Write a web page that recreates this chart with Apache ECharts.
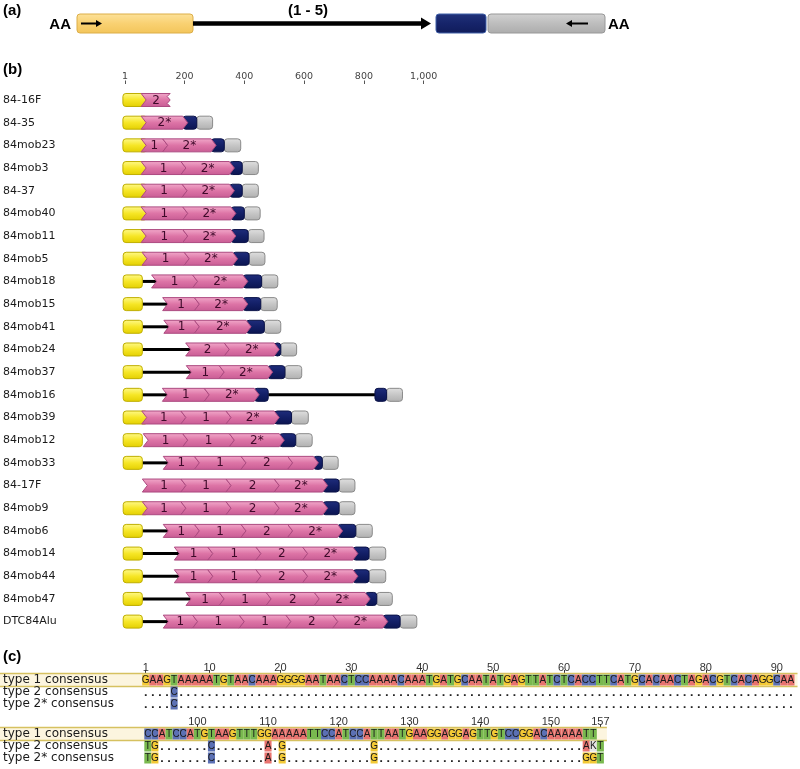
<!DOCTYPE html>
<html><head><meta charset="utf-8">
<script src="https://cdn.jsdelivr.net/npm/echarts@6/dist/echarts.min.js"></script>
<style>html,body{margin:0;padding:0;background:#fff}#c{width:800px;height:769px}</style>
</head><body><div id="c"></div>
<script>
// ---------- Panel (b) data ----------
const rowNames = ['84-16F','84-35','84mob23','84mob3','84-37','84mob40','84mob11','84mob5','84mob18','84mob15','84mob41','84mob24','84mob37','84mob16','84mob39','84mob12','84mob33','84-17F','84mob9','84mob6','84mob14','84mob44','84mob47','DTC84Alu'];
const scaleTicks = [1,200,400,600,800,1000];
// [row, start bp, end bp]
const yellowSpans = [[0,-6,55],[1,-6,55],[2,-6,55],[3,-6,55],[4,-6,55],[5,-6,55],[6,-6,55],[7,-5,58],[8,-5,59],[9,-5,59],[10,-5,59],[11,-5,59],[12,-5,59],[13,-5,59],[14,-5,57],[15,-5,59],[16,-5,59],[18,-5,59],[19,-5,59],[20,-5,59],[21,-5,59],[22,-5,59],[23,-5,59]];
const lineSpans = [[8,59,90],[9,59,127],[10,59,131],[11,59,204],[12,59,206],[13,59,126],[13,480,837],[16,59,129],[19,59,129],[20,59,166],[21,59,166],[22,59,205],[23,59,129]];
// [row, start bp, end bp (base of point)]
const pinkSpans = [[0,55,152],[1,55,194],[2,55,127],[2,127,289],[3,55,188],[3,188,350],[4,55,192],[4,192,350],[5,55,194],[5,194,355],[6,55,194],[6,194,355],[7,58,199],[7,199,361],
 [8,90,227],[8,227,395],[9,127,233],[9,233,395],[10,131,233],[10,233,406],[11,204,333],[11,333,500],[12,206,316],[12,316,478],[13,126,266],[13,266,433],
 [14,57,188],[14,188,339],[14,339,500],[15,62,194],[15,194,350],[15,350,517],[16,129,233],[16,233,389],[16,389,545],[16,545,631],
 [17,59,188],[17,188,339],[17,339,500],[17,500,662],[18,59,188],[18,188,339],[18,339,500],[18,500,662],
 [19,129,233],[19,233,389],[19,389,545],[19,545,712],[20,166,278],[20,278,439],[20,439,595],[20,595,763],[21,166,278],[21,278,439],[21,439,595],[21,595,763],
 [22,205,316],[22,316,473],[22,473,634],[22,634,804],[23,129,227],[23,227,383],[23,383,539],[23,539,696],[23,696,863]];
const pinkLabels = ['2','2*','1','2*','1','2*','1','2*','1','2*','1','2*','1','2*',
 '1','2*','1','2*','1','2*','2','2*','1','2*','1','2*',
 '1','1','2*','1','1','2*','1','1','2','',
 '1','1','2','2*','1','1','2','2*',
 '1','1','2','2*','1','1','2','2*','1','1','2','2*',
 '1','1','2','2*','1','1','1','2','2*'];
const truncatedPink = [0]; // index into pinkSpans of partial copies
const navySpans = [[1,194,241],[2,289,333],[3,350,393],[4,350,393],[5,355,400],[6,355,413],[7,361,416],[8,395,458],[9,395,455],[10,406,467],[11,500,522],[12,478,536],[13,433,480],[13,837,876],[14,500,558],[15,517,572],[16,631,661],[17,662,717],[18,662,717],[19,712,773],[20,763,817],[21,763,817],[22,804,843],[23,863,921]];
const greySpans = [[1,241,294],[2,333,388],[3,393,447],[4,393,447],[5,400,453],[6,413,466],[7,416,469],[8,458,512],[9,455,510],[10,467,522],[11,522,575],[12,536,592],[13,876,929],[14,558,614],[15,572,627],[16,661,714],[17,717,770],[18,717,770],[19,773,828],[20,817,873],[21,817,873],[22,843,895],[23,921,977]];

// ---------- Panel (a) schematic parts (relative lengths) ----------
const schemaParts = [['promoter',0,116],['repeats',116,354],['navy',359,409],['grey',411,528]];
const schemaRepeatLabel = '(1 - 5)';

// ---------- Panel (c) data ----------
const seqRowNames = ['type 1 consensus','type 2 consensus','type 2* consensus'];
const seqBlock1 = 'GAAGTAAAAATGTAACAAAGGGGAATAACTCCAAAACAAATGATGCAATATGAGTTATCTCACCTTCATGCACAACTAGACGTCACAGGCAA';
const seqBlock2 = 'CCATCCATGTAAGTTTGGAAAAATTCCATCCATTAATGAAGGAGGAGTTGTCCGGACAAAAATT';
const type2Diffs = [[5,'C'],[93,'T'],[94,'G'],[102,'C'],[110,'A'],[112,'G'],[125,'G'],[155,'A'],[156,'K'],[157,'T']];
const type2sDiffs = [[5,'C'],[93,'T'],[94,'G'],[102,'C'],[110,'A'],[112,'G'],[125,'G'],[155,'G'],[156,'G'],[157,'T']];
const rulerTicks1 = [1,10,20,30,40,50,60,70,80,90];
const rulerTicks2 = [100,110,120,130,140,150,157];
const block1Range = [1,92];
const block2Range = [93,157];

// ---------- build ----------
const chart = echarts.init(document.getElementById('c'));
const D = 5, H = 13;
const LG = (stops) => new echarts.graphic.LinearGradient(0,0,0,1,stops.map((c,i)=>({offset:i/(stops.length-1),color:c})));
const pinkStartKeys = new Set(pinkSpans.map(p => p[0]+':'+p[1]));

function boxRender(fillStops, stroke, joinYellow) {
  return function (params, api) {
    const row = api.value(0);
    const a = api.coord([api.value(1), row]);
    const b = api.coord([api.value(2), row]);
    let x1 = b[0];
    if (joinYellow && pinkStartKeys.has(row + ':' + api.value(2))) x1 += D + 1;
    return {type:'rect', z2:2, shape:{x:a[0], y:a[1]-H/2, width:x1-a[0], height:H, r:3},
      style:{fill:LG(fillStops), stroke:stroke, lineWidth:1}};
  };
}
function lineRender(params, api) {
  const row = api.value(0);
  const a = api.coord([api.value(1), row]);
  const b = api.coord([api.value(2), row]);
  return {type:'line', z2:1, shape:{x1:a[0], y1:a[1], x2:b[0]+D, y2:b[1]}, style:{stroke:'#000', lineWidth:3}};
}
function pinkRender(params, api) {
  const row = api.value(0);
  const a = api.coord([api.value(1), row]);
  const b = api.coord([api.value(2), row]);
  const x0 = a[0], x1 = b[0], y = a[1], t = y - H/2, bt = y + H/2;
  const cut = truncatedPink.indexOf(params.dataIndex) >= 0;
  let pts;
  if (cut) {
    pts = [[x0,t],[x1,t],[x1-3,y-3.5],[x1,y],[x1-3,y+3.5],[x1,bt],[x0,bt],[x0+D,y]];
  } else {
    pts = [[x0,t],[x1,t],[x1+D,y],[x1,bt],[x0,bt],[x0+D,y]];
  }
  const cx = cut ? (x0+x1+D)/2 - 2 : (x0+x1+D)/2;
  return {type:'group', children:[
    {type:'polygon', z2:3, shape:{points:pts}, style:{fill:LG(['#f2aacb','#dd74a6','#c85c94']), stroke:'#ac4a80', lineWidth:1}},
    {type:'text', z2:4, style:{x:cx, y:y+0.5, text:pinkLabels[params.dataIndex], align:'center', verticalAlign:'middle',
      fontSize:12, fontFamily:'DejaVu Sans', fill:'#3f0a2a'}}
  ]};
}

function schemaRender(params, api) {
  const kind = schemaParts[params.dataIndex][0];
  const a = api.coord([api.value(1), 0]);
  const b = api.coord([api.value(2), 0]);
  const cs = params.coordSys;
  const x0 = a[0], x1 = b[0], y = a[1], top = cs.y, h = cs.height;
  if (kind === 'promoter') {
    return {type:'group', children:[
      {type:'rect', shape:{x:x0, y:top, width:x1-x0, height:h, r:3}, style:{fill:LG(['#fde29a','#f9d172','#f3c55a']), stroke:'#dcae48', lineWidth:1}},
      {type:'line', shape:{x1:x0+4, y1:y, x2:x0+20, y2:y}, style:{stroke:'#000', lineWidth:2}},
      {type:'polygon', shape:{points:[[x0+19,y-3.5],[x0+25,y],[x0+19,y+3.5]]}, style:{fill:'#000'}},
      {type:'text', style:{x:x0-6, y:y+1, text:'AA', align:'right', verticalAlign:'middle', fontSize:15, fontWeight:'bold', fontFamily:'Liberation Sans', fill:'#000'}}
    ]};
  }
  if (kind === 'repeats') {
    return {type:'group', children:[
      {type:'line', shape:{x1:x0, y1:y, x2:x1-9, y2:y}, style:{stroke:'#000', lineWidth:4.5}},
      {type:'polygon', shape:{points:[[x1-10,y-6],[x1,y],[x1-10,y+6]]}, style:{fill:'#000'}},
      {type:'text', style:{x:(x0+x1)/2 - 4, y:top-3, text:schemaRepeatLabel, align:'center', verticalAlign:'middle', fontSize:15, fontWeight:'bold', fontFamily:'Liberation Sans', fill:'#000'}}
    ]};
  }
  if (kind === 'navy') {
    return {type:'rect', shape:{x:x0, y:top, width:x1-x0, height:h, r:3}, style:{fill:LG(['#22337a','#16246a','#101c5a']), stroke:'#4060a8', lineWidth:1}};
  }
  return {type:'group', children:[
    {type:'rect', shape:{x:x0, y:top, width:x1-x0, height:h, r:3}, style:{fill:LG(['#d2d2d2','#bdbdbd','#acacac']), stroke:'#989898', lineWidth:1}},
    {type:'line', shape:{x1:x1-34, y1:y, x2:x1-17, y2:y}, style:{stroke:'#000', lineWidth:2}},
    {type:'polygon', shape:{points:[[x1-33,y-3.5],[x1-39,y],[x1-33,y+3.5]]}, style:{fill:'#000'}},
    {type:'text', style:{x:x1+3, y:y+1, text:'AA', align:'left', verticalAlign:'middle', fontSize:15, fontWeight:'bold', fontFamily:'Liberation Sans', fill:'#000'}}
  ]};
}

// sequence cells
const ntColors = {A:'#e8736f', C:'#5b70b4', G:'#f3c935', T:'#79b94f', K:'#e6e6e6'};
function buildSeqData(seq, range) {
  const items = [], chars = [];
  for (let p = range[0]; p <= range[1]; p++) {
    const c1 = seq[p - range[0]];
    if (c1) { items.push([p, 0]); chars.push(c1); }
    const d2 = type2Diffs.find(d => d[0] === p);
    items.push([p, 1]); chars.push(d2 ? d2[1] : '.');
    const d3 = type2sDiffs.find(d => d[0] === p);
    items.push([p, 2]); chars.push(d3 ? d3[1] : '.');
  }
  return {items, chars};
}
const seq1 = buildSeqData(seqBlock1, block1Range);
const seq2 = buildSeqData(seqBlock2, block2Range);
function cellRender(chars) {
  return function (params, api) {
    const ch = chars[params.dataIndex];
    const c = api.coord([api.value(0), api.value(1)]);
    const w = api.size([1, 0])[0];
    if (ch === '.') {
      return {type:'rect', shape:{x:c[0]-0.9, y:c[1]+2.2, width:1.8, height:1.8}, style:{fill:'#222'}};
    }
    return {type:'group', children:[
      {type:'rect', shape:{x:c[0]-w/2, y:c[1]-5.5, width:w, height:11}, style:{fill:ntColors[ch] || '#ddd'}},
      {type:'text', style:{x:c[0], y:c[1]+0.5, text:ch, align:'center', verticalAlign:'middle', fontSize:10, fontFamily:'Liberation Sans', fill:'#1a1a1a'}}
    ]};
  };
}
function bandRender(params, api) {
  const cs = params.coordSys;
  const c = api.coord([api.value(0), 0]);
  const right = cs.x + cs.width + 3;
  return {type:'group', children:[
    {type:'rect', shape:{x:0, y:c[1]-6.5, width:right, height:13}, style:{fill:'#fcf5df'}},
    {type:'line', shape:{x1:0, y1:c[1]-6.5, x2:right, y2:c[1]-6.5}, style:{stroke:'#d6c160', lineWidth:1.5}},
    {type:'line', shape:{x1:0, y1:c[1]+6.5, x2:right, y2:c[1]+6.5}, style:{stroke:'#d6c160', lineWidth:1.5}}
  ]};
}

const fmt = v => String(v).replace(/\B(?=(\d{3})+(?!\d))/g, ',');
const rulerAxis = (ticks) => ({
  type:'value', position:'top', axisLine:{show:false}, splitLine:{show:false},
  axisTick:{show:true, length:4, customValues:ticks, lineStyle:{color:'#333'}},
  axisLabel:{customValues:ticks, fontSize:11, color:'#333', margin:1, fontFamily:'Liberation Sans'}
});
const seqYAxis = (grid, margin) => ({
  gridIndex:grid, type:'category', data:seqRowNames, inverse:true, axisLine:{show:false}, axisTick:{show:false},
  axisLabel:{interval:0, align:'left', margin:margin, fontSize:12, color:'#1a1a1a', fontFamily:'DejaVu Sans'}, z:10
});

const option = {
  animation:false,
  backgroundColor:'#fff',
  grid:[
    {left:77, top:14, width:528, height:19},
    {left:124.7, top:88.66, width:598, height:544.3},
    {left:142.2, top:674, width:652.3, height:36},
    {left:144.3, top:728, width:459.6, height:36}
  ],
  xAxis:[
    {gridIndex:0, type:'value', min:0, max:528, show:false},
    {gridIndex:1, type:'value', min:0, max:2000, position:'top', offset:4.66, axisLine:{show:false}, splitLine:{show:false},
      axisTick:{show:true, length:3.5, customValues:scaleTicks, lineStyle:{color:'#555'}},
      axisLabel:{customValues:scaleTicks, formatter:fmt, fontSize:9.5, color:'#444', margin:2, fontFamily:'DejaVu Sans'}},
    Object.assign({gridIndex:2, min:0.5, max:92.5}, rulerAxis(rulerTicks1)),
    Object.assign({gridIndex:3, min:92.5, max:157.5}, rulerAxis(rulerTicks2))
  ],
  yAxis:[
    {gridIndex:0, type:'category', data:['schema'], show:false},
    {gridIndex:1, type:'category', data:rowNames, inverse:true, axisLine:{show:false}, axisTick:{show:false},
      axisLabel:{interval:0, align:'left', margin:121.7, fontSize:11, color:'#1a1a1a', fontFamily:'DejaVu Sans'}},
    seqYAxis(2, 139.2),
    seqYAxis(3, 141.3)
  ],
  graphic:[
    {type:'text', left:3, top:3, style:{text:'(a)', fontSize:15, fontWeight:'bold', fontFamily:'Liberation Sans', fill:'#000'}},
    {type:'text', left:3, top:62, style:{text:'(b)', fontSize:15, fontWeight:'bold', fontFamily:'Liberation Sans', fill:'#000'}},
    {type:'text', left:3, top:649, style:{text:'(c)', fontSize:15, fontWeight:'bold', fontFamily:'Liberation Sans', fill:'#000'}}
  ],
  series:[
    {type:'custom', xAxisIndex:0, yAxisIndex:0, renderItem:schemaRender, encode:{x:[1,2], y:0},
      data:schemaParts.map(p => [0, p[1], p[2]])},
    {type:'custom', name:'gap', xAxisIndex:1, yAxisIndex:1, renderItem:lineRender, encode:{x:[1,2], y:0}, data:lineSpans, z:2},
    {type:'custom', name:'yellow', xAxisIndex:1, yAxisIndex:1, renderItem:boxRender(['#fffa8c','#f6e626','#e3cf00'], '#bfae00', true), encode:{x:[1,2], y:0}, data:yellowSpans, z:3},
    {type:'custom', name:'grey', xAxisIndex:1, yAxisIndex:1, renderItem:boxRender(['#e0e0e0','#c6c6c6','#b0b0b0'], '#8a8a8a', false), encode:{x:[1,2], y:0}, data:greySpans, z:3},
    {type:'custom', name:'navy', xAxisIndex:1, yAxisIndex:1, renderItem:boxRender(['#1f2d7c','#131f66','#0b1450'], '#0a1248', false), encode:{x:[1,2], y:0}, data:navySpans, z:4},
    {type:'custom', name:'repeat', xAxisIndex:1, yAxisIndex:1, renderItem:pinkRender, encode:{x:[1,2], y:0}, data:pinkSpans, z:5},
    {type:'custom', xAxisIndex:2, yAxisIndex:2, renderItem:bandRender, encode:{x:0, y:1}, data:[[block1Range[0],0]], z:1},
    {type:'custom', xAxisIndex:3, yAxisIndex:3, renderItem:bandRender, encode:{x:0, y:1}, data:[[block2Range[0],0]], z:1},
    {type:'custom', xAxisIndex:2, yAxisIndex:2, renderItem:cellRender(seq1.chars), encode:{x:0, y:1}, data:seq1.items, z:2},
    {type:'custom', xAxisIndex:3, yAxisIndex:3, renderItem:cellRender(seq2.chars), encode:{x:0, y:1}, data:seq2.items, z:2}
  ]
};
chart.setOption(option);
</script></body></html>
